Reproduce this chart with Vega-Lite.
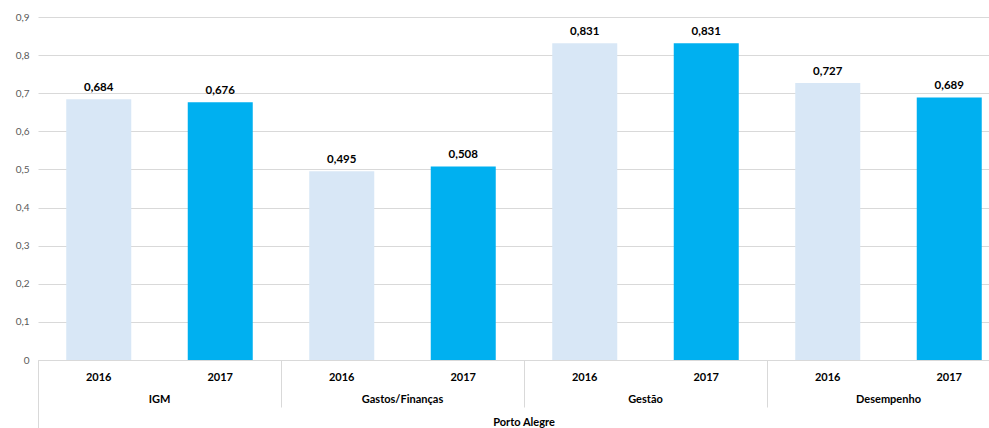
{
  "$schema": "https://vega.github.io/schema/vega-lite/v6.json",
  "width": 951,
  "height": 343,
  "autosize": {"type": "none"},
  "padding": {"left": 38, "top": 17, "right": 0, "bottom": 68},
  "background": "#ffffff",
  "config": {
    "locale": {"number": {"decimal": ",", "thousands": ".", "grouping": [3], "currency": ["R$", ""]}},
    "view": {"stroke": null},
    "font": "Lato"
  },
  "data": {
    "values": [
      {"region": "Porto Alegre", "category": "IGM", "year": "2016", "slot": "IGM|2016", "value": 0.684},
      {"region": "Porto Alegre", "category": "IGM", "year": "2017", "slot": "IGM|2017", "value": 0.676},
      {"region": "Porto Alegre", "category": "Gastos/Finanças", "year": "2016", "slot": "Gastos/Finanças|2016", "value": 0.495},
      {"region": "Porto Alegre", "category": "Gastos/Finanças", "year": "2017", "slot": "Gastos/Finanças|2017", "value": 0.508},
      {"region": "Porto Alegre", "category": "Gestão", "year": "2016", "slot": "Gestão|2016", "value": 0.831},
      {"region": "Porto Alegre", "category": "Gestão", "year": "2017", "slot": "Gestão|2017", "value": 0.831},
      {"region": "Porto Alegre", "category": "Desempenho", "year": "2016", "slot": "Desempenho|2016", "value": 0.727},
      {"region": "Porto Alegre", "category": "Desempenho", "year": "2017", "slot": "Desempenho|2017", "value": 0.689}
    ]
  },
  "layer": [
    {
      "encoding": {
        "x": {
          "field": "slot",
          "type": "nominal",
          "sort": null,
          "scale": {"range": [0, 972], "paddingInner": 0.465, "paddingOuter": 0.2325},
          "axis": {
            "orient": "bottom",
            "title": null,
            "labelExpr": "split(datum.value, '|')[1]",
            "labelAngle": 0,
            "ticks": false,
            "domain": true,
            "domainColor": "#d9d9d9",
            "labelBaseline": "middle",
            "labelPadding": 17,
            "labelFont": "Lato",
            "labelFontSize": 11,
            "labelFontWeight": "bold",
            "labelColor": "#000000",
            "grid": false
          }
        },
        "y": {
          "field": "value",
          "type": "quantitative",
          "scale": {"domain": [0, 0.9], "nice": false},
          "axis": {
            "title": null,
            "tickCount": 9,
            "format": ".1~f",
            "domain": false,
            "ticks": false,
            "grid": true,
            "gridColor": "#d9d9d9",
            "labelPadding": 9,
            "labelFont": "Lato",
            "labelFontSize": 10,
            "labelColor": "#595959"
          }
        }
      },
      "layer": [
        {
          "mark": {"type": "bar"},
          "encoding": {
            "color": {
              "field": "year",
              "type": "nominal",
              "scale": {"domain": ["2016", "2017"], "range": ["#d8e7f6", "#00b0f0"]},
              "legend": null
            }
          }
        },
        {
          "mark": {"type": "text", "baseline": "bottom", "dy": -6, "font": "Lato", "fontSize": 11.5, "fontWeight": "bold", "color": "#000000"},
          "encoding": {
            "text": {"field": "value", "type": "quantitative", "format": ".3f"}
          }
        }
      ]
    },
    {
      "mark": {"type": "rule", "opacity": 0},
      "encoding": {
        "x": {
          "field": "category",
          "type": "nominal",
          "sort": null,
          "scale": {"range": [0, 972], "paddingInner": 0, "paddingOuter": 0},
          "axis": {
            "orient": "bottom",
            "title": null,
            "labelAngle": 0,
            "domain": false,
            "ticks": true,
            "bandPosition": 0,
            "tickSize": 47,
            "tickColor": "#d9d9d9",
            "labelBaseline": "middle",
            "labelPadding": -8,
            "labelFont": "Lato",
            "labelFontSize": 11,
            "labelFontWeight": "bold",
            "labelColor": "#000000",
            "grid": false
          }
        }
      }
    },
    {
      "mark": {"type": "rule", "opacity": 0},
      "encoding": {
        "x": {
          "field": "region",
          "type": "nominal",
          "scale": {"range": [0, 972], "paddingInner": 0, "paddingOuter": 0},
          "axis": {
            "orient": "bottom",
            "title": null,
            "labelAngle": 0,
            "domain": false,
            "ticks": true,
            "bandPosition": 0,
            "tickSize": 68,
            "tickColor": "#d9d9d9",
            "labelBaseline": "middle",
            "labelPadding": -6,
            "labelFont": "Lato",
            "labelFontSize": 11,
            "labelFontWeight": "bold",
            "labelColor": "#000000",
            "grid": false
          }
        }
      }
    }
  ],
  "resolve": {"scale": {"x": "independent"}, "axis": {"x": "independent"}}
}
